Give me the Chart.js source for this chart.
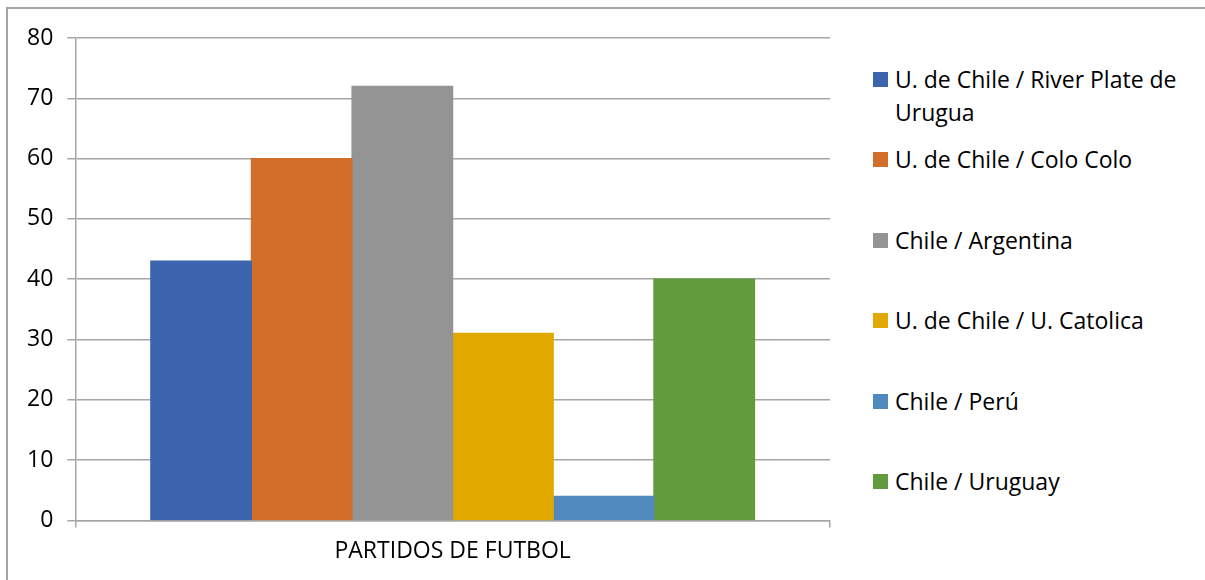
<!DOCTYPE html>
<html>
<head>
<meta charset="utf-8">
<script src="https://cdn.jsdelivr.net/npm/chart.js@4"></script>
<style>
  html, body { margin: 0; padding: 0; background: #fff; }
  body { width: 1205px; height: 580px; position: relative; overflow: hidden; font-family: "Open Sans", sans-serif; }
  #frame { position: absolute; left: 6px; top: 7px; width: 1210px; height: 600px; border-top: 2px solid #a6a6a6; border-left: 2px solid #a6a6a6; box-sizing: border-box; }
  #wrap { position: absolute; left: 0; top: 0; width: 845px; height: 580px; }
  #legend { position: absolute; left: 873px; top: 63px; width: 330px; }
  .item { height: 80.4px; display: flex; align-items: flex-start; }
  .box { width: 15px; height: 15px; margin-top: 9px; margin-right: 7px; flex: none; }
  .txt { font-size: 23px; line-height: 33px; color: #000; width: 305px; }
</style>
</head>
<body>
<div id="frame"></div>
<div id="wrap"><canvas id="chart"></canvas></div>
<div id="legend"></div>
<script>
const categories = ['PARTIDOS DE FUTBOL'];
const seriesLabels = [
    'U. de Chile / River Plate de Urugua',
    'U. de Chile / Colo Colo',
    'Chile / Argentina',
    'U. de Chile / U. Catolica',
    'Chile / Perú',
    'Chile / Uruguay'
];
const seriesValues = [43, 60, 72, 31, 4, 40];
const seriesColors = ['#3c65ae', '#d36d2a', '#949494', '#e2aa00', '#4f89be', '#629a3e'];
const yTicks = [0, 10, 20, 30, 40, 50, 60, 70, 80];

const gridColor = '#a6a6a6';

var datasets = seriesLabels.map((label, i) => ({
    label: label,
    data: [seriesValues[i]],
    backgroundColor: seriesColors[i],
    borderWidth: 0,
    inflateAmount: 0.6,
    categoryPercentage: 0.8,
    barPercentage: 1.0
}));

const chart = new Chart(
    document.getElementById('chart'),
    {
        type: 'bar',
        data: {
            labels: categories,
            datasets: datasets
        },
        options: {
            responsive: true,
            maintainAspectRatio: false,
            animation: false,
            layout: { padding: { top: 38, left: 13, right: 15, bottom: 5 } },
            plugins: {
                legend: { display: false },
                tooltip: { enabled: false }
            },
            scales: {
                x: {
                    grid: { drawOnChartArea: false, color: gridColor, tickLength: 7, lineWidth: 1.5 },
                    border: { display: true, color: gridColor, width: 1.5 },
                    ticks: { color: '#000', font: { family: 'Open Sans', size: 23 }, padding: 10 }
                },
                y: {
                    min: 0,
                    max: 80,
                    afterBuildTicks: axis => { axis.ticks = yTicks.map(v => ({ value: v })); },
                    grid: { color: gridColor, tickLength: 8, lineWidth: 1.5 },
                    border: { display: true, color: gridColor, width: 1.5 },
                    ticks: { color: '#000', font: { family: 'Open Sans', size: 23 }, padding: 14 }
                }
            }
        }
    }
);

// legend built from the chart's datasets
const legendEl = document.getElementById('legend');
chart.data.datasets.forEach(ds => {
    const item = document.createElement('div');
    item.className = 'item';
    const box = document.createElement('span');
    box.className = 'box';
    box.style.background = ds.backgroundColor;
    const txt = document.createElement('span');
    txt.className = 'txt';
    txt.textContent = ds.label;
    item.appendChild(box);
    item.appendChild(txt);
    legendEl.appendChild(item);
});
</script>
</body>
</html>
